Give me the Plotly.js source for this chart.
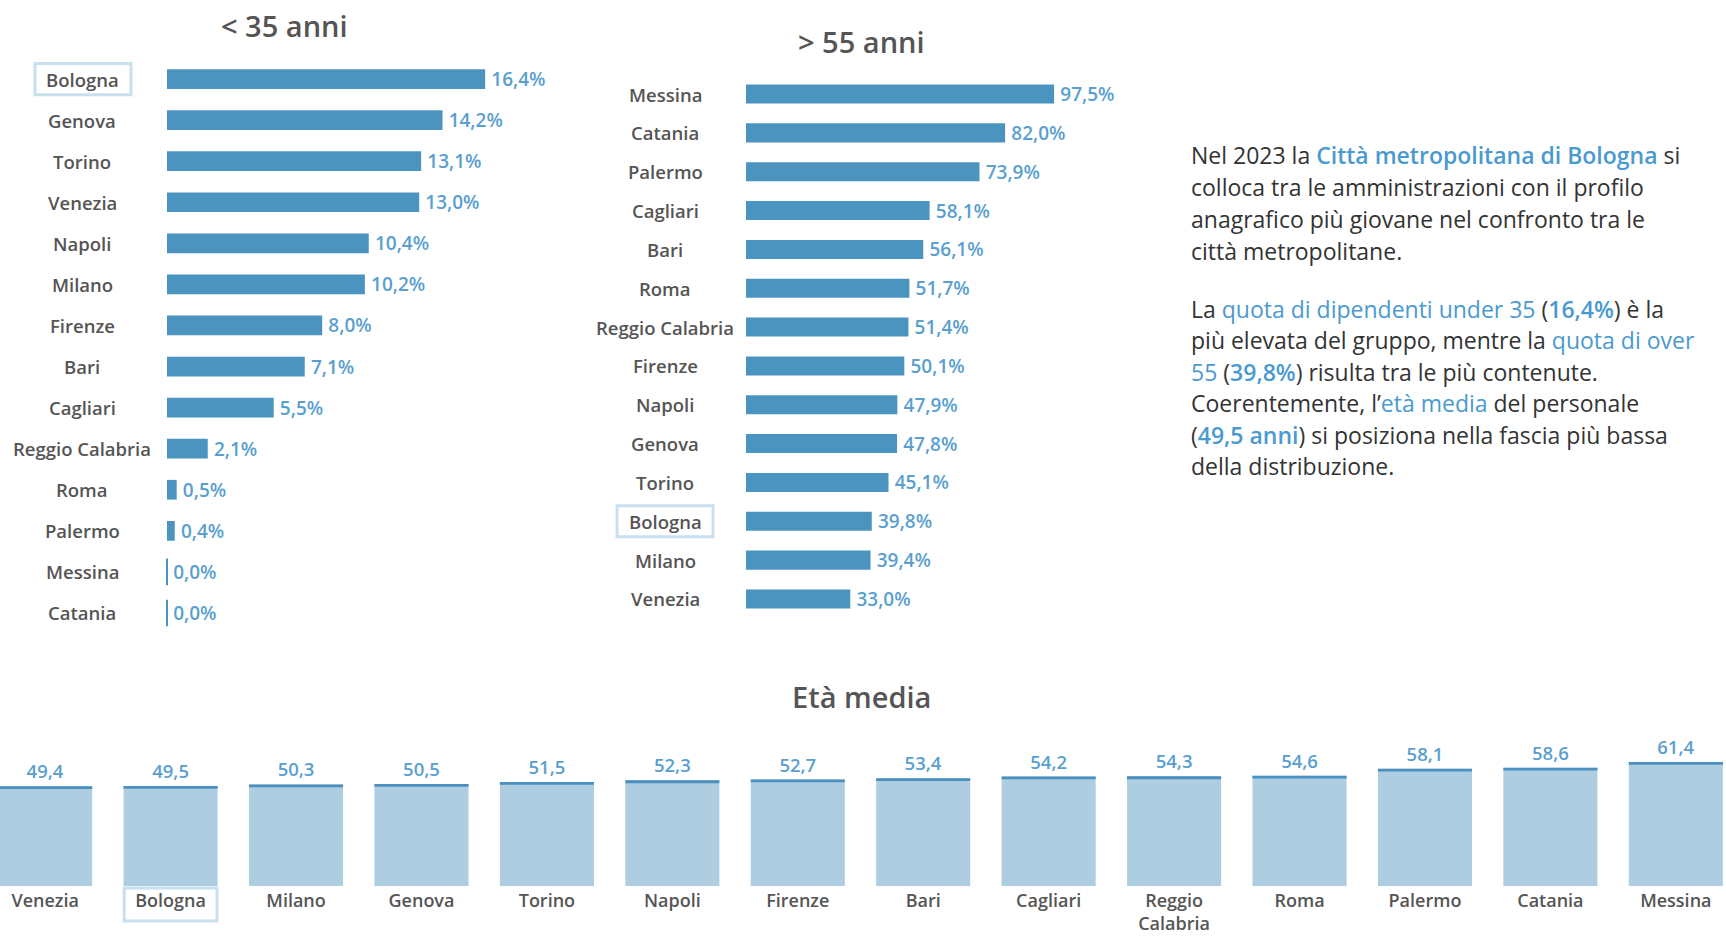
<!DOCTYPE html>
<html>
<head>
<meta charset="utf-8">
<script src="https://cdn.plot.ly/plotly-3.0.1.min.js"></script>
<style>html,body{margin:0;padding:0;background:#fff;}#chart{width:1726px;height:936px;}</style>
</head>
<body>
<div id="chart"></div>
<script>
// ---- data ----
const under35Cities = ['Bologna','Genova','Torino','Venezia','Napoli','Milano','Firenze','Bari','Cagliari','Reggio Calabria','Roma','Palermo','Messina','Catania'];
const under35Values = [16.4,14.2,13.1,13.0,10.4,10.2,8.0,7.1,5.5,2.1,0.5,0.4,0.0,0.0];

const over55Cities = ['Messina','Catania','Palermo','Cagliari','Bari','Roma','Reggio Calabria','Firenze','Napoli','Genova','Torino','Bologna','Milano','Venezia'];
const over55Values = [97.5,82.0,73.9,58.1,56.1,51.7,51.4,50.1,47.9,47.8,45.1,39.8,39.4,33.0];

const ageCities = ['Venezia','Bologna','Milano','Genova','Torino','Napoli','Firenze','Bari','Cagliari','Reggio Calabria','Roma','Palermo','Catania','Messina'];
const ageValues = [49.4,49.5,50.3,50.5,51.5,52.3,52.7,53.4,54.2,54.3,54.6,58.1,58.6,61.4];

const highlight = 'Bologna';

// ---- styles ----
const FONT = '"Open Sans", Lato, sans-serif';
const BAR = '#4b94c0';
const BAR_LIGHT = '#aecde1';
const LABEL_BLUE = '#5a9fcf';
const GRAY = '#555555';
const BOX = '#c8dfee';
const TOPLINE = 1.4;
const valueFont = {family: FONT, size: 19, color: LABEL_BLUE, weight: 600};

// thin marker for zero-width bars (values equal to 0 are drawn as a hairline)
const zeroCities = under35Cities.filter((c, i) => under35Values[i] === 0);

const traces = [
  {
    type: 'bar', orientation: 'h', x: under35Values, y: under35Cities,
    xaxis: 'x', yaxis: 'y', width: 0.48,
    marker: {color: BAR},
    texttemplate: '\u2009%{x:.1f}%', textposition: 'outside', cliponaxis: false, constraintext: 'none',
    textfont: valueFont,
    hoverinfo: 'skip'
  },
  {
    type: 'scatter', mode: 'markers', x: zeroCities.map(() => 0), y: zeroCities,
    xaxis: 'x', yaxis: 'y', cliponaxis: false,
    marker: {symbol: 'line-ns', size: 19, line: {color: BAR, width: 2}},
    hoverinfo: 'skip'
  },
  {
    type: 'bar', orientation: 'h', x: over55Values, y: over55Cities,
    xaxis: 'x2', yaxis: 'y2', width: 0.49,
    marker: {color: BAR},
    texttemplate: '\u2009%{x:.1f}%', textposition: 'outside', cliponaxis: false, constraintext: 'none',
    textfont: valueFont,
    hoverinfo: 'skip'
  },
  {
    type: 'bar', x: ageCities, y: ageValues,
    xaxis: 'x3', yaxis: 'y3', width: 0.75,
    marker: {color: BAR_LIGHT},
    hoverinfo: 'skip'
  },
  {
    type: 'bar', x: ageCities, y: ageValues.map(() => TOPLINE), base: ageValues.map(v => v - TOPLINE),
    xaxis: 'x3', yaxis: 'y3', width: 0.75,
    marker: {color: '#4a8fbf'},
    text: ageValues.map(v => v.toFixed(1).replace('.', ',')),
    textposition: 'outside', cliponaxis: false, constraintext: 'none',
    textfont: {family: FONT, size: 18.5, color: LABEL_BLUE, weight: 600},
    hoverinfo: 'skip'
  }
];

const annotations = [];
function cityLabels(cities, yref, xc) {
  cities.forEach(c => annotations.push({
    xref: 'paper', yref: yref, x: xc, y: c, text: c, showarrow: false,
    xanchor: 'center', yanchor: 'middle',
    font: {family: FONT, size: 18.5, color: GRAY, weight: 600}
  }));
}
cityLabels(under35Cities, 'y', 82/1726);
cityLabels(over55Cities, 'y2', 665/1726);

function title(text, x, y) {
  annotations.push({xref: 'paper', yref: 'paper', x: x, y: y, text: text, showarrow: false,
    xanchor: 'center', yanchor: 'middle', font: {family: FONT, size: 29, color: GRAY, weight: 600}});
}
title('&lt; 35 anni', 284/1726, 1 - 25/936);
title('&gt; 55 anni', 861/1726, 1 - 42/936);
title('Età media', 861/1726, 1 - 696/936);

const HB = '#4a9ad0';
const hl = t => `<span style="color:${HB}">${t}</span>`;
const hb = t => `<span style="color:${HB};font-weight:600">${t}</span>`;
const textLines = [
  [`Nel 2023 la ${hb('Città metropolitana di Bologna')} si`, 155],
  ['colloca tra le amministrazioni con il profilo', 187],
  ['anagrafico più giovane nel confronto tra le', 219],
  ['città metropolitane.', 251],
  [`La ${hl('quota di dipendenti under 35')} (${hb('16,4%')}) è la`, 309],
  [`più elevata del gruppo, mentre la ${hl('quota di over')}`, 340],
  [`${hl('55')} (${hb('39,8%')}) risulta tra le più contenute.`, 372],
  [`Coerentemente, l’${hl('età media')} del personale`, 403],
  [`(${hb('49,5 anni')}) si posiziona nella fascia più bassa`, 435],
  ['della distribuzione.', 466]
];
textLines.forEach(([t, y]) => annotations.push({
  xref: 'paper', yref: 'paper', x: 1189/1726, y: 1 - y/936, text: t, showarrow: false,
  xanchor: 'left', yanchor: 'middle', align: 'left',
  font: {family: FONT, size: 23, color: '#333333'}
}));

const i1 = under35Cities.indexOf(highlight);
const i2 = over55Cities.indexOf(highlight);
const i3 = ageCities.indexOf(highlight);
const shapes = [
  {type: 'rect', xref: 'paper', yref: 'y', x0: 35/1726, x1: 131/1726, y0: i1 - 0.38, y1: i1 + 0.38,
   line: {color: BOX, width: 3}},
  {type: 'rect', xref: 'paper', yref: 'y2', x0: 617/1726, x1: 713/1726, y0: i2 - 0.4, y1: i2 + 0.4,
   line: {color: BOX, width: 3}},
  {type: 'rect', xref: 'x3', yref: 'paper', x0: i3 - 0.37, x1: i3 + 0.37, y0: 1 - 921/936, y1: 1 - 888/936,
   line: {color: BOX, width: 3}}
];

const hidden = {showticklabels: false, showgrid: false, zeroline: false, showline: false, ticks: '', fixedrange: true};

const layout = {
  width: 1726, height: 936,
  margin: {l: 0, r: 0, t: 0, b: 0},
  paper_bgcolor: '#ffffff', plot_bgcolor: 'rgba(0,0,0,0)',
  showlegend: false, separators: ',.',
  barmode: 'overlay',
  font: {family: FONT},
  xaxis: Object.assign({}, hidden, {domain: [167/1726, (167 + 20*19.4)/1726], range: [0, 20],
    anchor: 'y', tickvals: [0], showgrid: true, griddash: 'dot', gridcolor: '#aaaaaa', gridwidth: 1}),
  yaxis: Object.assign({}, hidden, {domain: [1 - 633.5/936, 1 - 58.5/936], anchor: 'x',
    type: 'category', categoryorder: 'array', categoryarray: under35Cities,
    range: [under35Cities.length - 0.5, -0.5]}),
  xaxis2: Object.assign({}, hidden, {domain: [746/1726, (746 + 110*3.16)/1726], range: [0, 110],
    anchor: 'y2', tickvals: [0], showgrid: true, griddash: 'dot', gridcolor: '#aaaaaa', gridwidth: 1}),
  yaxis2: Object.assign({}, hidden, {domain: [1 - 618.4/936, 1 - 74.6/936], anchor: 'x2',
    type: 'category', categoryorder: 'array', categoryarray: over55Cities,
    range: [over55Cities.length - 0.5, -0.5]}),
  xaxis3: {domain: [0, 1], range: [-0.36, 13.4], anchor: 'y3', type: 'category',
    tickvals: ageCities, ticktext: ageCities.map(c => c.replace(' ', '<br>')),
    showgrid: false, zeroline: false, showline: false, ticks: '', fixedrange: true,
    ticklabelstandoff: 2,
    tickfont: {family: FONT, size: 18, color: GRAY, weight: 600}},
  yaxis3: {domain: [1 - 886/936, 1 - 886/936 + 70*2.02/936], range: [0, 70], anchor: 'x3',
    showticklabels: false, zeroline: false, showline: false, ticks: '', fixedrange: true,
    tickvals: [0], showgrid: true, griddash: 'dot', gridcolor: '#aaaaaa', gridwidth: 1},
  annotations: annotations,
  shapes: shapes
};

Plotly.newPlot('chart', traces, layout, {displayModeBar: false, staticPlot: true});
</script>
</body>
</html>
